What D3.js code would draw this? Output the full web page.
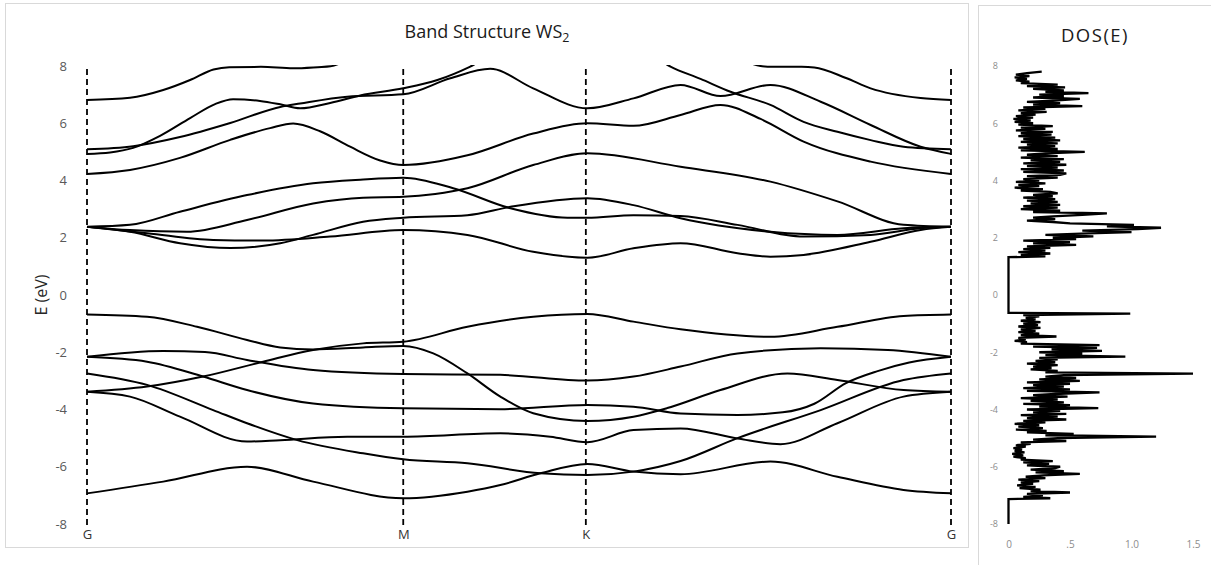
<!DOCTYPE html>
<html><head><meta charset="utf-8">
<script src="https://cdn.jsdelivr.net/npm/d3@7/dist/d3.min.js"></script>
<style>
body{margin:0;background:#fff;}
svg{display:block;font-family:"Open Sans",sans-serif;}
</style></head><body>
<svg id="c" width="1211" height="565"></svg>
<script>
// ---- data ----
const kPoints = [0, 1, 1.5774, 2.7321];
const kLabels = ["G", "M", "K", "G"];
const yTicks = [-8, -6, -4, -2, 0, 2, 4, 6, 8];
const dosTicks = [0, 0.5, 1.0, 1.5];
const dosTickLabels = ["0", ".5", "1.0", "1.5"];

// bands: [k, E(eV)]
const bandA = [[0,6.81],[0.136,6.89],[0.241,7.16],[0.326,7.51],[0.40,7.88],[0.45,7.96],[0.55,7.97],[0.652,7.92],[0.73,7.96],[0.77,7.99],[0.86,8.4],[1.0,8.9],[1.3,9.2],[1.577,9.2],[1.85,8.9],[2.03,8.4],[2.13,8.0],[2.17,7.97],[2.26,7.97],[2.30,7.95],[2.40,7.58],[2.478,7.22],[2.636,6.88],[2.732,6.81]];
const bandC2 = [[0,4.93],[0.073,4.98],[0.146,5.14],[0.231,5.56],[0.326,6.18],[0.405,6.67],[0.462,6.84],[0.547,6.78],[0.611,6.66],[0.674,6.52],[0.769,6.71],[0.864,6.97],[1.0,7.22],[1.108,7.51],[1.212,7.98],[1.30,8.5],[1.577,8.9],[1.78,8.4],[1.845,7.98],[1.94,7.55],[2.035,7.10],[2.161,6.64],[2.266,6.05],[2.373,5.70],[2.478,5.41],[2.582,5.18],[2.732,5.09]];
const bandC3 = [[0,5.09],[0.146,5.20],[0.294,5.52],[0.453,6.01],[0.611,6.57],[0.674,6.69],[0.823,6.93],[1.0,7.01],[1.149,7.57],[1.275,7.90],[1.411,7.22],[1.582,6.52],[1.728,6.87],[1.877,7.34],[2.003,6.95],[2.161,7.34],[2.320,6.75],[2.478,5.94],[2.636,5.18],[2.732,4.93]];
const bandC4 = [[0,4.23],[0.136,4.37],[0.294,4.79],[0.453,5.42],[0.579,5.83],[0.652,5.99],[0.737,5.72],[0.832,5.18],[0.927,4.70],[1.0,4.54],[1.203,4.88],[1.411,5.64],[1.582,6.0],[1.728,5.91],[1.877,6.29],[2.003,6.64],[2.13,6.15],[2.266,5.36],[2.478,4.66],[2.732,4.23]];
const bandC5 = [[0,2.38],[0.136,2.45],[0.294,2.91],[0.506,3.49],[0.715,3.90],[0.864,4.03],[1.0,4.10],[1.158,3.73],[1.339,3.03],[1.519,2.70],[1.582,2.70],[1.728,2.79],[1.877,2.76],[2.057,2.45],[2.266,2.04],[2.478,2.10],[2.636,2.33],[2.732,2.38]];
const bandC6 = [[0,2.38],[0.136,2.27],[0.316,2.21],[0.506,2.62],[0.715,3.20],[0.873,3.40],[1.0,3.43],[1.101,3.53],[1.203,3.73],[1.411,4.54],[1.582,4.95],[1.877,4.48],[2.161,3.96],[2.373,3.27],[2.582,2.45],[2.732,2.38]];
const bandC7 = [[0,2.38],[0.136,2.21],[0.294,1.81],[0.453,1.64],[0.611,1.81],[0.715,2.10],[0.873,2.56],[1.0,2.70],[1.203,2.79],[1.339,3.08],[1.582,3.38],[1.728,3.14],[1.877,2.68],[2.161,2.21],[2.373,2.10],[2.582,2.33],[2.732,2.38]];
const bandC8 = [[0,2.38],[0.19,2.16],[0.399,1.92],[0.557,1.90],[0.769,2.04],[1.0,2.27],[1.203,2.10],[1.411,1.51],[1.582,1.30],[1.728,1.63],[1.877,1.81],[2.057,1.46],[2.161,1.34],[2.266,1.40],[2.478,1.86],[2.636,2.27],[2.732,2.38]];
const bandV1 = [[0,-0.68],[0.19,-0.76],[0.348,-1.11],[0.506,-1.57],[0.611,-1.83],[0.715,-1.90],[0.873,-1.83],[1.0,-1.78],[1.095,-2.04],[1.203,-2.74],[1.307,-3.55],[1.411,-4.13],[1.582,-4.40],[1.728,-4.25],[1.835,-3.95],[2.003,-3.32],[2.215,-2.74],[2.373,-2.97],[2.582,-3.32],[2.732,-3.38]];
const bandV2 = [[0,-2.16],[0.241,-1.96],[0.373,-1.99],[0.506,-2.27],[0.715,-2.62],[1.0,-2.76],[1.307,-2.79],[1.582,-2.99],[1.728,-2.85],[1.877,-2.50],[2.057,-2.04],[2.320,-1.86],[2.532,-1.92],[2.732,-2.16]];
const bandV3 = [[0,-2.16],[0.19,-2.33],[0.367,-2.85],[0.506,-3.32],[0.715,-3.79],[1.0,-3.96],[1.307,-3.99],[1.582,-3.84],[1.728,-3.90],[1.877,-4.14],[2.057,-4.19],[2.20,-4.10],[2.30,-3.80],[2.40,-3.08],[2.50,-2.66],[2.60,-2.36],[2.732,-2.16]];
const bandV4 = [[0,-2.74],[0.19,-3.14],[0.399,-4.02],[0.506,-4.48],[0.665,-5.07],[0.873,-5.53],[1.0,-5.74],[1.203,-5.88],[1.434,-6.23],[1.582,-6.29],[1.728,-6.17],[1.877,-5.80],[2.057,-5.0],[2.320,-4.02],[2.582,-2.97],[2.732,-2.74]];
const bandV5 = [[0,-3.38],[0.19,-3.20],[0.367,-2.85],[0.557,-2.33],[0.715,-1.92],[0.873,-1.69],[1.0,-1.63],[1.203,-1.11],[1.411,-0.76],[1.582,-0.66],[1.728,-0.93],[1.877,-1.20],[2.161,-1.46],[2.373,-1.11],[2.582,-0.73],[2.732,-0.68]];
const bandV6 = [[0,-3.38],[0.136,-3.55],[0.294,-4.25],[0.506,-5.12],[0.611,-5.07],[0.823,-4.95],[1.0,-4.95],[1.307,-4.83],[1.465,-4.95],[1.582,-5.14],[1.728,-4.72],[1.877,-4.66],[2.057,-5.01],[2.193,-5.21],[2.373,-4.48],[2.582,-3.55],[2.732,-3.38]];
const bandV7 = [[0,-6.93],[0.241,-6.52],[0.506,-6.0],[0.715,-6.52],[1.0,-7.10],[1.203,-6.87],[1.307,-6.64],[1.434,-6.23],[1.582,-5.90],[1.728,-6.17],[1.877,-6.26],[2.161,-5.82],[2.373,-6.35],[2.582,-6.81],[2.732,-6.93]];

// DOS (states/eV), energy grid: start + 0.05*i
const dosStep = 0.05;
const dosValenceStart = -7.10;
const dosValence = [0.34,0.12,0.28,0.15,0.50,0.18,0.26,0.09,0.22,0.07,
 0.20,0.10,0.25,0.08,0.30,0.14,0.28,0.58,0.22,0.45,
 0.18,0.38,0.42,0.15,0.33,0.12,0.36,0.10,0.14,0.04,
 0.12,0.03,0.13,0.05,0.11,0.04,0.14,0.06,0.18,0.10,
 0.47,0.20,0.40,1.20,0.30,0.53,0.15,0.31,0.06,0.28,
 0.08,0.25,0.05,0.30,0.12,0.47,0.15,0.40,0.10,0.47,
 0.20,0.42,0.15,0.73,0.25,0.50,0.12,0.45,0.18,0.40,
 0.10,0.48,0.20,0.42,0.74,0.15,0.50,0.12,0.45,0.20,
 0.50,0.15,0.58,0.25,0.55,0.30,0.45,1.50,0.30,0.40,
 0.18,0.35,0.20,0.40,0.15,0.38,0.22,0.40,0.25,0.95,
 0.30,0.60,0.25,0.76,0.35,0.72,0.20,0.74,0.10,0.15,
 0.05,0.14,0.08,0.39,0.10,0.25,0.08,0.22,0.10,0.26,
 0.08,0.24,0.12,0.26,0.10,0.22,0.14,0.25,0.12,0.99];
const dosConductionStart = 1.35;
const dosConduction = [0.30,0.10,0.34,0.08,0.30,0.12,0.34,0.15,0.55,0.20,
 0.50,0.12,0.55,0.36,0.69,0.30,0.65,1.00,0.60,1.05,
 1.24,0.80,1.02,0.50,0.36,0.15,0.38,0.20,0.36,0.60,
 0.80,0.20,0.42,0.10,0.40,0.12,0.42,0.18,0.40,0.15,
 0.38,0.12,0.36,0.20,0.40,0.34,0.10,0.28,0.05,0.25,
 0.08,0.30,0.06,0.25,0.12,0.40,0.15,0.42,0.47,0.12,
 0.45,0.10,0.40,0.15,0.47,0.12,0.42,0.18,0.45,0.10,
 0.40,0.15,0.30,0.62,0.10,0.40,0.08,0.38,0.15,0.40,
 0.10,0.42,0.12,0.38,0.08,0.35,0.10,0.36,0.06,0.30,
 0.10,0.36,0.08,0.20,0.05,0.18,0.04,0.20,0.06,0.22,
 0.10,0.31,0.08,0.30,0.12,0.60,0.20,0.42,0.15,0.40,
 0.58,0.20,0.45,0.25,0.65,0.30,0.45,0.20,0.46,0.15,
 0.40,0.10,0.17,0.06,0.15,0.05,0.17,0.06,0.15,0.27];
const dosLowEdge = [[0,-8],[0,-7.13]];
const dosGap = [[0,-0.62],[0,1.32]];

// ---- drawing ----
const svg = d3.select("#c");
const x = d3.scaleLinear().domain([0, 2.7321]).range([87, 951]);
const y = d3.scaleLinear().domain([-8, 8]).range([524, 66]);

// panel frames
svg.append("rect").attr("x",5.5).attr("y",3.5).attr("width",963).attr("height",544)
  .attr("fill","none").attr("stroke","#d9d9d9");
svg.append("rect").attr("x",978.5).attr("y",5.5).attr("width",240).attr("height",570)
  .attr("fill","none").attr("stroke","#d9d9d9");

// title
const t = svg.append("text").attr("x",487).attr("y",38).attr("text-anchor","middle")
  .attr("font-size",18).attr("fill","#1a1a1a");
t.append("tspan").text("Band Structure WS");
t.append("tspan").attr("font-size",12.5).attr("dy",4).text("2");

// y axis
const yAxis = svg.append("g").attr("transform","translate(87,0)")
  .call(d3.axisLeft(y).tickValues(yTicks).tickSize(0).tickPadding(20).tickFormat(d => String(d)));
yAxis.select(".domain").remove();
yAxis.selectAll("text").attr("font-size",13).attr("fill","#595959").attr("font-family","Open Sans");

svg.append("text").attr("transform","translate(41,295) rotate(-90)").attr("text-anchor","middle")
  .attr("dy","0.35em").attr("font-size",16).attr("fill","#262626").text("E (eV)");

// x labels
const xAxis = svg.append("g").attr("transform","translate(0,524)")
  .call(d3.axisBottom(x).tickValues(kPoints).tickSize(0).tickPadding(6).tickFormat((d,i) => kLabels[i]));
xAxis.select(".domain").remove();
xAxis.selectAll("text").attr("font-size",13).attr("fill","#333").attr("font-family","Open Sans");

// dashed symmetry lines
svg.append("g").selectAll("line").data(kPoints).join("line")
  .attr("x1",d=>x(d)).attr("x2",d=>x(d)).attr("y1",y(8)+3).attr("y2",y(-8)+3)
  .attr("stroke","#000").attr("stroke-width",1.8).attr("stroke-dasharray","6,4");

// bands
svg.append("clipPath").attr("id","clipB").append("rect")
  .attr("x",80).attr("y",65).attr("width",880).attr("height",462);
const bands = [bandA,bandC2,bandC3,bandC4,bandC5,bandC6,bandC7,bandC8,bandV1,bandV2,bandV3,bandV4,bandV5,bandV6,bandV7];
const line = d3.line().x(d=>x(d[0])).y(d=>y(d[1])).curve(d3.curveMonotoneX);
svg.append("g").attr("clip-path","url(#clipB)").selectAll("path").data(bands).join("path")
  .attr("d",line).attr("fill","none").attr("stroke","#000").attr("stroke-width",2);

// DOS panel
svg.append("text").attr("x",1095).attr("y",42).attr("text-anchor","middle")
  .attr("font-size",18.5).attr("letter-spacing",1.5).attr("fill","#1a1a1a").text("DOS(E)");
const xd = d3.scaleLinear().domain([0,1.5]).range([1008.5,1193]);
const dy = d3.axisLeft(y).tickValues(yTicks).tickSize(0).tickPadding(0).tickFormat(d => String(d));
const dyG = svg.append("g").attr("transform","translate(998,0)").call(dy);
dyG.select(".domain").remove();
dyG.selectAll("text").attr("font-size",9).attr("fill","#8c8c8c").attr("font-family","Open Sans");
const dxG = svg.append("g").attr("transform","translate(0,541)")
  .call(d3.axisBottom(xd).tickValues(dosTicks).tickSize(0).tickPadding(0).tickFormat((d,i)=>dosTickLabels[i]));
dxG.select(".domain").remove();
dxG.selectAll("text").attr("font-size",10).attr("fill","#8c8c8c").attr("font-family","Open Sans");

const dosPts = [].concat(
  dosLowEdge,
  dosValence.map((v,i) => [v, dosValenceStart + dosStep*i]),
  dosGap,
  dosConduction.map((v,i) => [v, dosConductionStart + dosStep*i])
);
svg.append("path").datum(dosPts)
  .attr("d", d3.line().x(d=>xd(d[0])).y(d=>y(d[1])))
  .attr("fill","none").attr("stroke","#000").attr("stroke-width",2.3).attr("stroke-linejoin","miter").attr("stroke-miterlimit",2);
</script>
</body></html>
